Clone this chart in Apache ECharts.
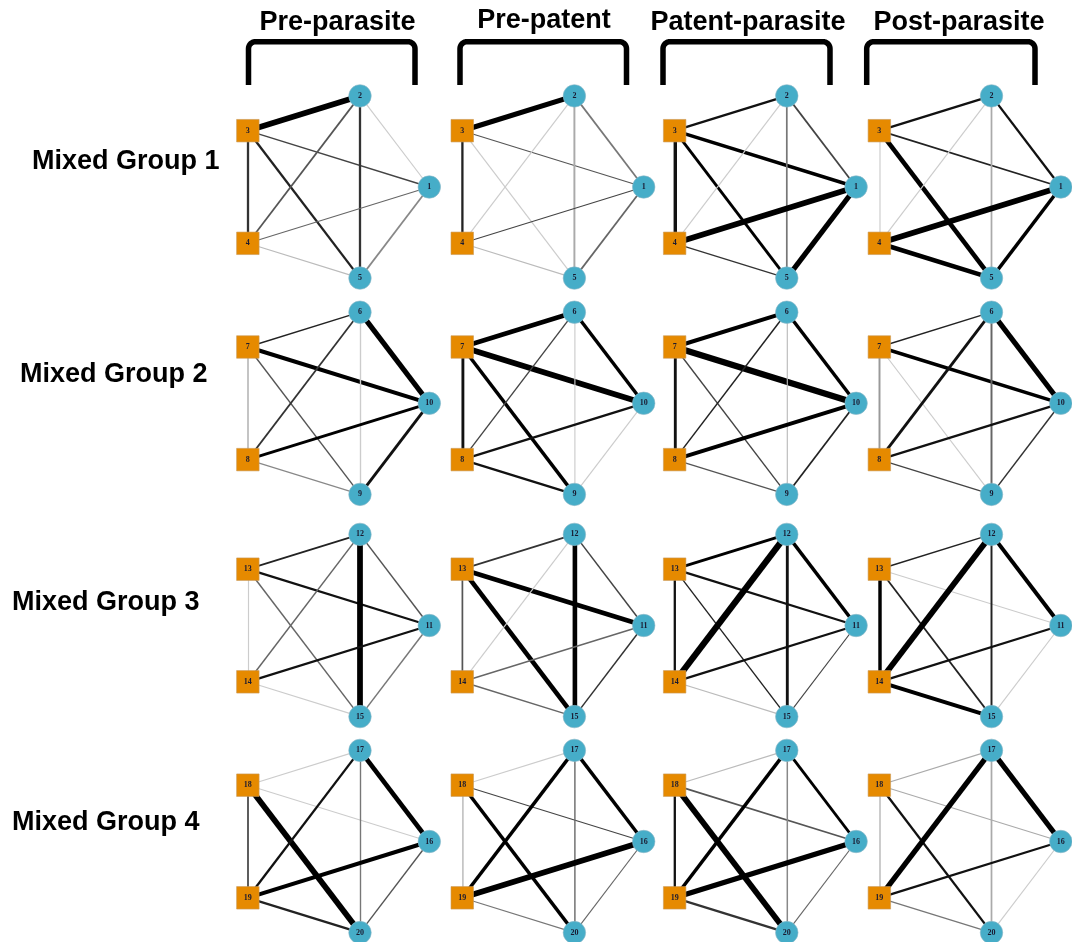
<!DOCTYPE html>
<html>
<head>
<meta charset="utf-8">
<script src="https://cdn.jsdelivr.net/npm/echarts@6/dist/echarts.min.js"></script>
<style>
  html, body { margin: 0; padding: 0; background: #ffffff; }
  #chart { width: 1072px; height: 942px; }
</style>
</head>
<body>
<div id="chart"></div>
<script>
// Column headings (infection phase) and row headings (group)
const phases = ['Pre-parasite', 'Pre-patent', 'Patent-parasite', 'Post-parasite'];
const groups = ['Mixed Group 1', 'Mixed Group 2', 'Mixed Group 3', 'Mixed Group 4'];

// Animal ids per group, in pentagon slot order: top, upper-left, right, lower-left, bottom
const groupNodes = [
  ['2', '3', '1', '4', '5'],
  ['6', '7', '10', '8', '9'],
  ['12', '13', '11', '14', '15'],
  ['17', '18', '16', '19', '20']
];
// Upper-left and lower-left slots hold the squares, the others circles
const slotKinds = ['circle', 'square', 'circle', 'square', 'circle'];

// Edge list as slot-index pairs:
// UL-T, UL-R, UL-LL, UL-B, T-R, T-LL, T-B, R-LL, R-B, LL-B
const edgePairs = [[1, 0], [1, 2], [1, 3], [1, 4], [0, 2], [0, 3], [0, 4], [2, 3], [2, 4], [3, 4]];

// Edge strength (line width) per phase, one row per phase
const g1Width = [
  [5, 1.2, 2, 2, 1, 1.5, 2, 1, 1.5, 1],
  [4.5, 1, 2, 1, 1.5, 1, 1.7, 1, 1.5, 1],
  [2, 3, 3, 2.5, 1.5, 1, 1.5, 5, 4.5, 1.2],
  [2, 1.5, 1, 4, 2, 1, 1.5, 5, 3, 4]
];
const g2Width = [
  [1.2, 3.5, 1.5, 1.2, 4.5, 1.5, 1.2, 2.5, 2.5, 1],
  [4, 5, 2.5, 3, 3, 1.2, 1, 2, 1, 2],
  [3.5, 5.5, 2.5, 1.2, 3, 1.3, 1, 3.5, 1.5, 1.2],
  [1.2, 3, 1.7, 1, 4.5, 2.5, 1.7, 2, 1.3, 1.2]
];
const g3Width = [
  [1.5, 2, 1, 1.3, 1.3, 1.3, 5, 2, 1.3, 1],
  [1.5, 4, 1.5, 4, 1.3, 1, 4, 1.3, 1.3, 1.3],
  [2.5, 2, 2, 1.2, 3, 5.5, 2.5, 2, 1, 1],
  [1.3, 1, 3, 1.5, 3.5, 5, 1.7, 2, 1, 3.5]
];
const g4Width = [
  [1, 1, 1.5, 5, 4, 2, 1.2, 3.5, 1.2, 2],
  [1, 1, 1.3, 3, 3, 3, 1.2, 5, 1, 1],
  [1, 1.5, 2, 5, 2.5, 3, 1.3, 4.5, 1, 2],
  [1, 1, 1.3, 2, 4.5, 4.5, 1.5, 2, 1, 1.2]
];

// Edge gray level (0 = black, 255 = white) per phase
const g1Shade = [
  [0, 68, 51, 34, 204, 85, 51, 102, 136, 187],
  [0, 85, 34, 204, 119, 204, 170, 68, 102, 187],
  [17, 0, 17, 0, 68, 204, 119, 0, 0, 51],
  [17, 34, 204, 0, 17, 204, 170, 0, 0, 0]
];
const g2Shade = [
  [34, 0, 187, 85, 0, 51, 204, 0, 17, 136],
  [0, 0, 17, 0, 0, 68, 204, 17, 204, 17],
  [0, 0, 17, 68, 0, 34, 187, 0, 34, 85],
  [34, 0, 153, 204, 0, 17, 102, 17, 51, 68]
];
const g3Shade = [
  [34, 17, 204, 102, 85, 102, 0, 17, 119, 204],
  [51, 0, 85, 0, 68, 204, 0, 102, 51, 102],
  [0, 17, 17, 34, 0, 0, 17, 17, 68, 187],
  [34, 204, 0, 34, 0, 0, 34, 17, 204, 0]
];
const g4Shade = [
  [204, 204, 68, 0, 0, 17, 119, 0, 85, 34],
  [204, 68, 187, 0, 0, 0, 102, 0, 102, 119],
  [187, 85, 17, 0, 0, 0, 136, 0, 102, 51],
  [170, 170, 187, 17, 0, 0, 170, 17, 204, 119]
];

const widths = [g1Width, g2Width, g3Width, g4Width];
const shades = [g1Shade, g2Shade, g3Shade, g4Shade];

// ---- layout and style ----
const colCenters = [329, 543.4, 755.8, 960.5];
const rowCenters = [187, 403.3, 625.5, 841.5];
const RX = 100.3, RY = 95.8;
const slotAngles = [-72, -144, 0, 144, 72];
const NODE_SIZE = 22.5;
const LINE_SCALE = 1.15;
const SQUARE_COLOR = '#E68A00';
const CIRCLE_COLOR = '#46ADC8';
const FONT = '"Liberation Sans", Arial, sans-serif';

function gray(v) {
  const h = Math.round(v).toString(16).padStart(2, '0');
  return '#' + h + h + h;
}

const slotPts = slotAngles.map(a => [RX * Math.cos(a * Math.PI / 180), RY * Math.sin(a * Math.PI / 180)]);
const minX = Math.min(...slotPts.map(p => p[0])), maxX = Math.max(...slotPts.map(p => p[0]));
const minY = Math.min(...slotPts.map(p => p[1])), maxY = Math.max(...slotPts.map(p => p[1]));

const series = [];
groups.forEach((g, gi) => {
  phases.forEach((ph, pi) => {
    const ids = groupNodes[gi];
    series.push({
      type: 'graph',
      layout: 'none',
      roam: false,
      silent: true,
      left: colCenters[pi] + minX,
      top: rowCenters[gi] + minY,
      width: maxX - minX,
      height: maxY - minY,
      symbolSize: NODE_SIZE,
      edgeSymbol: ['none', 'none'],
      emphasis: { disabled: true },
      label: {
        show: true,
        position: 'inside',
        fontFamily: '"Liberation Serif", "Times New Roman", serif',
        fontWeight: 'bold',
        fontSize: 8,
        color: '#1a1a30'
      },
      lineStyle: { opacity: 1, curveness: 0 },
      data: ids.map((id, k) => ({
        name: id,
        x: slotPts[k][0],
        y: slotPts[k][1],
        symbol: slotKinds[k] === 'square' ? 'rect' : 'circle',
        itemStyle: {
          color: slotKinds[k] === 'square' ? SQUARE_COLOR : CIRCLE_COLOR,
          borderColor: slotKinds[k] === 'square' ? '#c99a5a' : '#8fb8c8',
          borderWidth: 0.6
        }
      })),
      links: edgePairs.map(([a, b], e) => ({
        source: ids[a],
        target: ids[b],
        lineStyle: {
          width: widths[gi][pi][e] * LINE_SCALE,
          color: gray(shades[gi][pi][e])
        }
      }))
    });
  });
});

// Brackets over each column
const bracketX = [[248.5, 415], [460, 626.5], [663, 830], [866.7, 1035]];
const BR_TOP = 41.7, BR_BOTTOM = 85, BR_R = 7;
function bracketPoints(xl, xr) {
  const pts = [[xl, BR_BOTTOM], [xl, BR_TOP + BR_R]];
  for (let i = 1; i <= 8; i++) {
    const t = Math.PI + (Math.PI / 2) * i / 8;
    pts.push([xl + BR_R + BR_R * Math.cos(t), BR_TOP + BR_R + BR_R * Math.sin(t)]);
  }
  pts.push([xr - BR_R, BR_TOP]);
  for (let i = 1; i <= 8; i++) {
    const t = 1.5 * Math.PI + (Math.PI / 2) * i / 8;
    pts.push([xr - BR_R + BR_R * Math.cos(t), BR_TOP + BR_R + BR_R * Math.sin(t)]);
  }
  pts.push([xr, BR_BOTTOM]);
  return pts;
}

const headerX = [337.5, 544, 748, 959];
const headerY = [22.5, 20.5, 22.5, 22.5];
const rowLabelX = [32, 20, 12, 12];
const rowLabelY = [162, 375, 603, 823];

const graphics = [];
phases.forEach((ph, i) => {
  graphics.push({
    type: 'polyline',
    silent: true,
    shape: { points: bracketPoints(bracketX[i][0], bracketX[i][1]) },
    style: { stroke: '#000', lineWidth: 5.5, fill: null, lineJoin: 'round', lineCap: 'butt' }
  });
  graphics.push({
    type: 'text',
    silent: true,
    x: headerX[i],
    y: headerY[i],
    style: {
      text: ph,
      fill: '#000',
      font: 'bold 27px ' + FONT,
      align: 'center',
      verticalAlign: 'middle'
    }
  });
});
groups.forEach((g, i) => {
  graphics.push({
    type: 'text',
    silent: true,
    x: rowLabelX[i],
    y: rowLabelY[i],
    style: {
      text: g,
      fill: '#000',
      font: 'bold 27px ' + FONT,
      align: 'left',
      verticalAlign: 'middle'
    }
  });
});

const chart = echarts.init(document.getElementById('chart'), null, { renderer: 'canvas' });
chart.setOption({
  animation: false,
  backgroundColor: '#ffffff',
  series: series,
  graphic: graphics
});
</script>
</body>
</html>
